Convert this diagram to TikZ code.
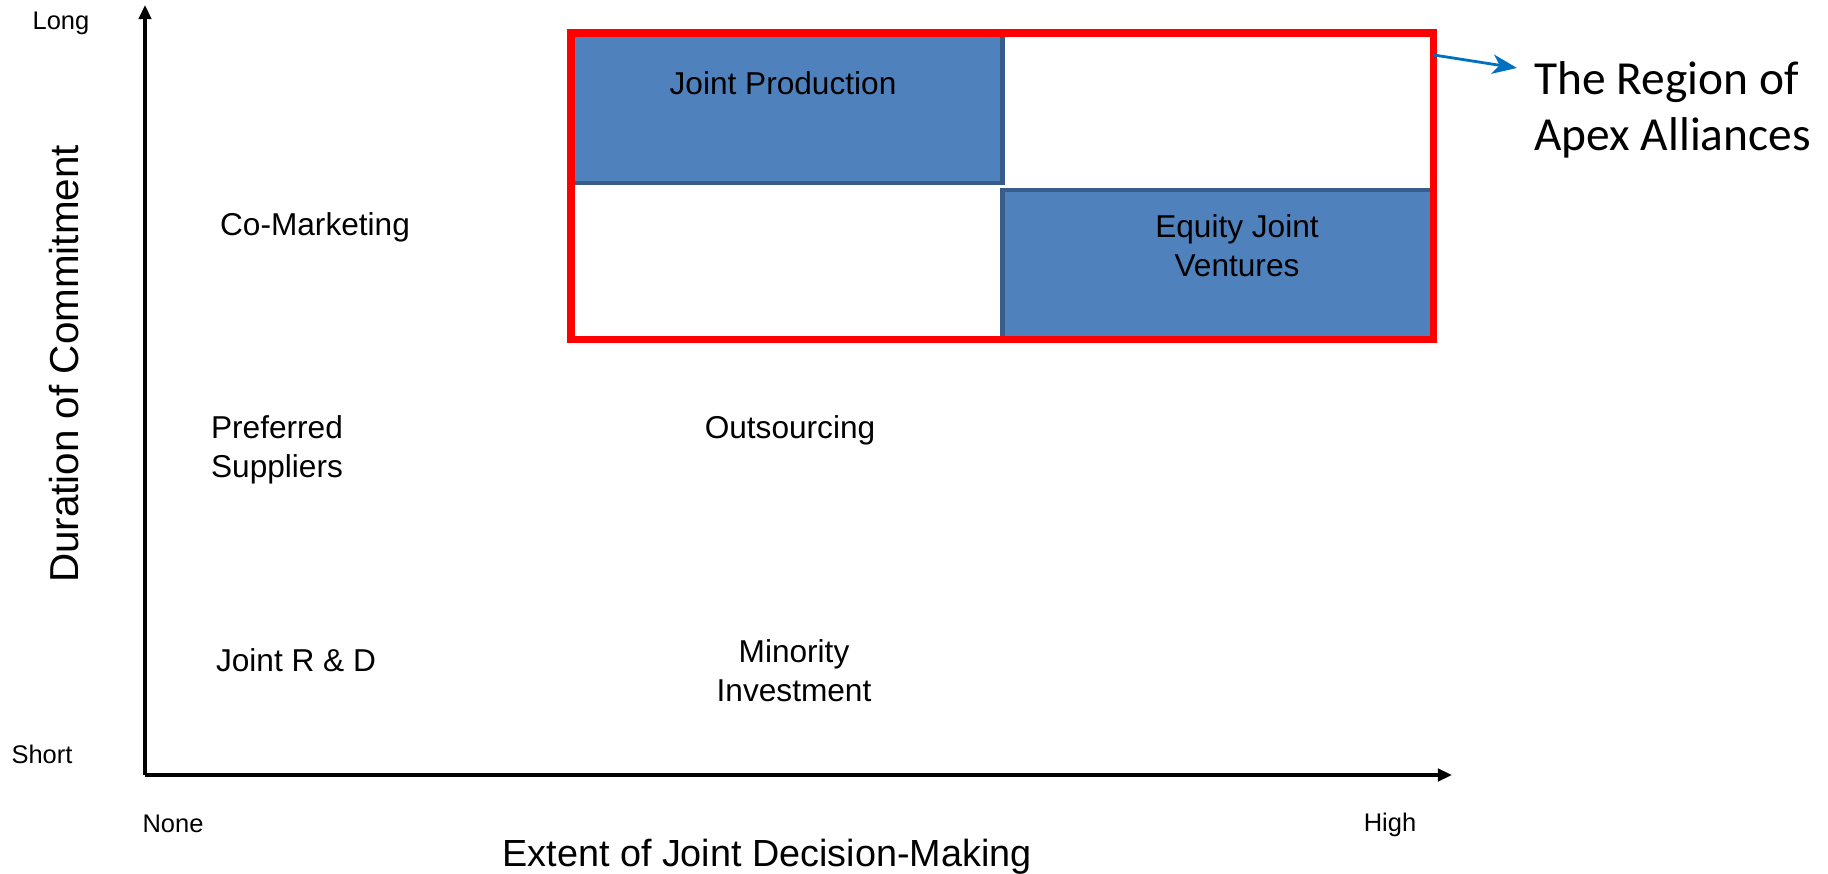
\documentclass[tikz,border=0pt]{standalone}
\usepackage{fontspec}
\setmainfont{Liberation Sans}
\newfontfamily\calloutfont{Carlito}
\usetikzlibrary{arrows.meta}

\definecolor{cellblue}{HTML}{4F81BD}
\definecolor{celledge}{HTML}{385D8A}
\definecolor{calloutblue}{HTML}{0070C0}

\tikzset{
  axisline/.style={line width=2pt, -{Triangle[length=8pt, width=7pt]}},
  ticktext/.style={font=\fontsize{14.5}{17}\selectfont},
  titletext/.style={font=\fontsize{21.5}{26}\selectfont},
  celltext/.style={font=\fontsize{18}{22}\selectfont, align=center},
  cellbox/.style={draw=celledge, fill=cellblue, line width=2.8pt, inner sep=0pt, outer sep=0pt,
    minimum width=8.63cm, minimum height=3cm},
  regionframe/.style={draw=red, line width=4pt, inner sep=0pt, outer sep=0pt,
    minimum width=17.26cm, minimum height=6.14cm},
  callouttext/.style={font=\calloutfont\fontsize{27}{32}\selectfont, align=left, inner sep=0pt},
  calloutarrow/.style={calloutblue, line width=1.6pt, -{Stealth[length=14pt, width=11pt, inset=4pt]}},
}

\begin{document}
\begin{tikzpicture}[x=0.02cm, y=-0.02cm]
  \useasboundingbox (0,0) rectangle (1828,874);

  % axes
  \coordinate (origin) at (145,775);
  \coordinate (ytip) at (145,5);
  \coordinate (xtip) at (1452,775);
  \draw[axisline] (origin) -- (ytip);
  \draw[axisline] (origin) -- (xtip);
  \node[ticktext] (long) at (61,23) {Long};
  \node[ticktext] (short) at (42,754) {Short};
  \node[ticktext] (none) at (173,824) {None};
  \node[ticktext] (high) at (1390,825) {High};
  \node[titletext] (xtitle) at (767,857) {Extent of Joint Decision-Making};
  \node[titletext, font=\fontsize{23}{27}\selectfont, rotate=90] (ytitle) at (64,364) {Duration of Commitment};

  % apex quadrant
  \node[cellbox, anchor=north west] (jpbox) at (571,33) {};
  \node[cellbox, anchor=south east] (ejvbox) at (1434,340) {};
  \node[regionframe, anchor=north west] (region) at (571,33) {};
  \node[celltext] (jp) at (783,83) {Joint Production};
  \node[celltext] (ejv) at (1237,246) {Equity Joint\\Ventures};

  % other alliance forms
  \node[celltext] (comkt) at (315,227) {Co-Marketing};
  \node[celltext] (prefsup) at (277,450) {Preferred\\Suppliers};
  \node[celltext] (jointrd) at (296,660) {Joint R \& D};
  \node[celltext] (outsrc) at (790,430) {Outsourcing};
  \node[celltext] (mininv) at (794,671) {Minority\\Investment};

  % callout
  \node[callouttext, anchor=west] (apex) at (1534,110) {The Region of\\Apex Alliances};
  \coordinate (apextip) at (1517,68);
  \draw[calloutarrow] ([yshift=-0.44cm]region.north east) -- (apextip);
\end{tikzpicture}
\end{document}
